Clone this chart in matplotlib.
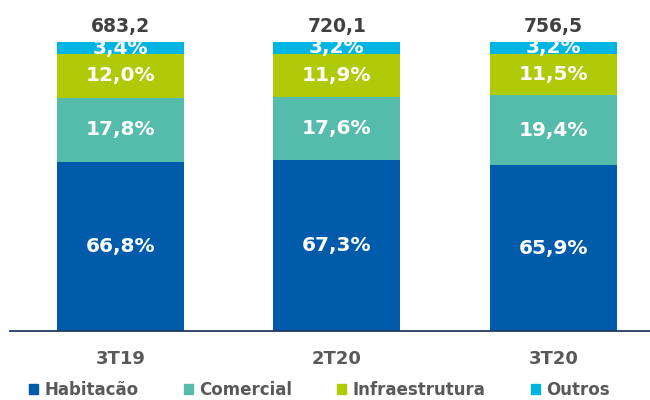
import matplotlib.pyplot as plt
from matplotlib.patches import Patch

# dados do gráfico
periodos = ["3T19", "2T20", "3T20"]
totais = ["683,2", "720,1", "756,5"]
habitacao = [66.8, 67.3, 65.9]
comercial = [17.8, 17.6, 19.4]
infraestrutura = [12.0, 11.9, 11.5]
outros = [3.4, 3.2, 3.2]

series = [
    ("Habitacão", habitacao, "#005BAA"),
    ("Comercial", comercial, "#55BBAA"),
    ("Infraestrutura", infraestrutura, "#AFCB08"),
    ("Outros", outros, "#00B5E2"),
]

# eixo y começa em 20 (barras cortadas, como no original)
y_min = 20

plt.rcParams["font.family"] = ["DejaVu Sans"]
plt.rcParams["font.weight"] = "bold"

fig = plt.figure(figsize=(6.5, 4.0), dpi=100)
ax = fig.add_axes([10 / 650, 69 / 400, 640 / 650, 289 / 400])

x = list(range(len(periodos)))
base = [0.0] * len(periodos)
for nome, valores, cor in series:
    ax.bar(x, valores, width=0.587, bottom=base, color=cor, label=nome)
    for i, v in enumerate(valores):
        txt = f"{v:.1f}%".replace(".", ",")
        centro = (max(base[i], y_min) + base[i] + v) / 2
        ax.text(i, centro, txt, ha="center", va="center",
                color="white", fontsize=14.5, fontweight="bold")
    base = [b + v for b, v in zip(base, valores)]

# totais acima das barras
for i, t in enumerate(totais):
    ax.annotate(t, (i, 100), xytext=(0, 4.5), textcoords="offset points",
                ha="center", va="bottom", color="#404040",
                fontsize=13.5, fontweight="bold")

ax.set_xlim(-0.51, 2.446)
ax.set_ylim(y_min, 100)
ax.set_xticks(x)
ax.set_xticklabels(periodos, fontsize=13, fontweight="bold", color="#595959")
ax.tick_params(axis="x", length=0, pad=14)
ax.set_yticks([])
for lado in ["top", "right", "left"]:
    ax.spines[lado].set_visible(False)
ax.spines["bottom"].set_color("#1F3864")
ax.spines["bottom"].set_linewidth(1.3)

handles = [Patch(color=cor, label=nome) for nome, _, cor in series]
leg = fig.legend(handles=handles, loc="center left", bbox_to_anchor=(29 / 650, 1 - 390 / 400),
                 ncol=4, frameon=False, fontsize=12, handlelength=0.55, handleheight=0.55,
                 handletextpad=0.36, columnspacing=2.72, borderpad=0, borderaxespad=0)
for t in leg.get_texts():
    t.set_color("#595959")
    t.set_fontweight("bold")

fig.savefig("out.png", dpi=100)
